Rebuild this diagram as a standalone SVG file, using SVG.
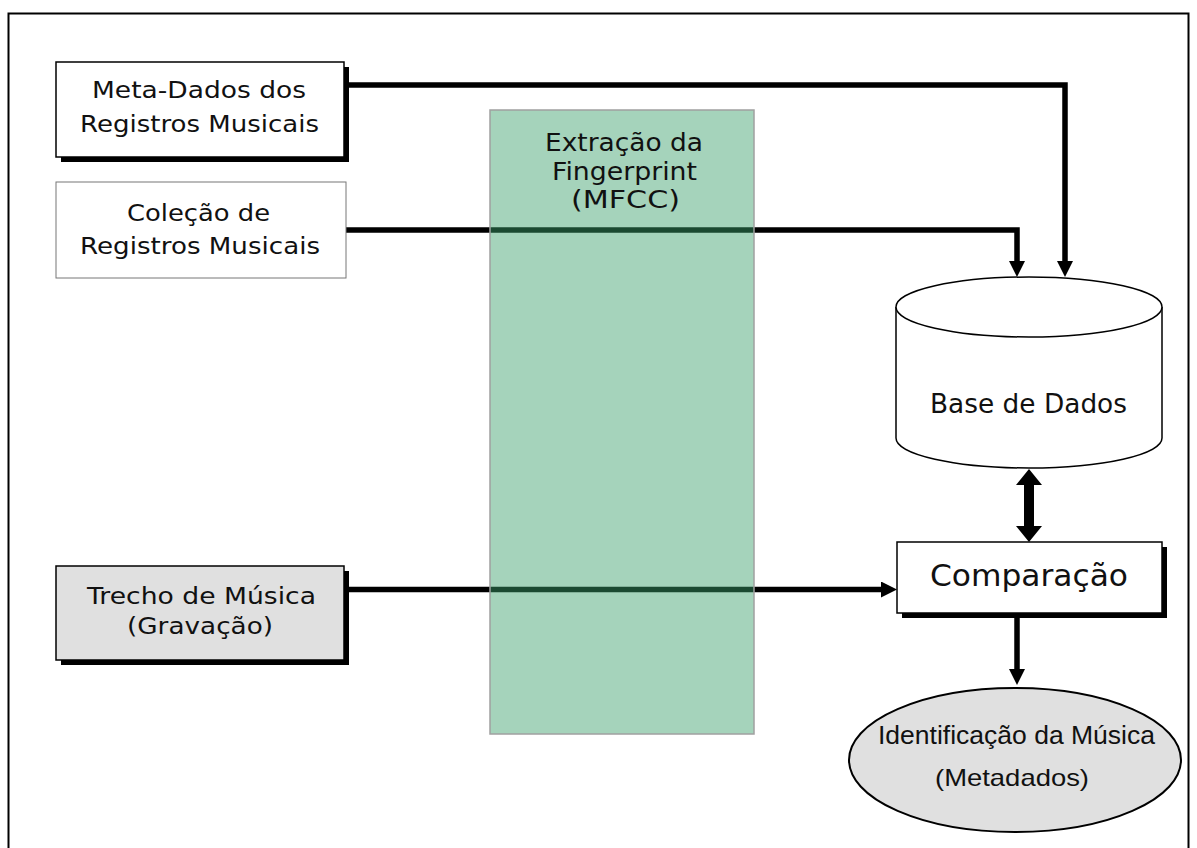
<svg xmlns="http://www.w3.org/2000/svg" width="1197" height="848" viewBox="0 0 1197 848">
<style>
.t{font-family:"DejaVu Sans",Verdana,sans-serif;fill:#111}
.a{font-family:"Liberation Sans",Arial,sans-serif;fill:#111}
.box{fill:#fff;stroke:#000;stroke-width:1.5}
.sh{fill:#000}
.ln{fill:none;stroke:#000;stroke-width:5.5;stroke-linejoin:miter}
</style>
<defs>
<marker id="ah" viewBox="0 0 16 16" refX="2" refY="8" markerWidth="16" markerHeight="16" markerUnits="userSpaceOnUse" orient="auto">
<path d="M0,0 L16,8 L0,16 z" fill="#000"/>
</marker>
</defs>
<rect x="0" y="0" width="1197" height="848" fill="#fff"/>
<rect x="8.5" y="13.5" width="1180" height="860" fill="none" stroke="#000" stroke-width="2"/>

<g id="connectors">
<path class="ln" d="M349,85 H1065 V263" marker-end="url(#ah)"/>
<path class="ln" d="M346,230 H1017 V263" marker-end="url(#ah)"/>
<path class="ln" d="M349,589.5 H883" marker-end="url(#ah)"/>
<path class="ln" d="M1017,618 V671" marker-end="url(#ah)"/>
<polygon points="1029,469 1042,485 1034,485 1034,526 1042,526 1029,542 1016,526 1024,526 1024,485 1016,485" fill="#000"/>
</g>

<g id="meta">
<rect class="sh" x="61" y="67" width="288" height="95"/>
<rect class="box" x="56" y="62" width="288" height="95"/>
<text class="t" font-size="23" x="92" y="98" textLength="214" lengthAdjust="spacingAndGlyphs">Meta-Dados dos</text>
<text class="t" font-size="23" x="80" y="132" textLength="239" lengthAdjust="spacingAndGlyphs">Registros Musicais</text>
</g>

<g id="colecao">
<rect x="56" y="182" width="290" height="96" fill="#fff" stroke="#777" stroke-width="1"/>
<text class="t" font-size="23" x="127" y="221" textLength="143" lengthAdjust="spacingAndGlyphs">Coleção de</text>
<text class="t" font-size="23" x="80" y="254" textLength="240" lengthAdjust="spacingAndGlyphs">Registros Musicais</text>
</g>

<g id="trecho">
<rect class="sh" x="61" y="571" width="288" height="94"/>
<rect x="56" y="566" width="288" height="94" fill="#e0e0e0" stroke="#000" stroke-width="1.5"/>
<text class="t" font-size="23" x="87" y="604" textLength="229" lengthAdjust="spacingAndGlyphs">Trecho de Música</text>
<text class="t" font-size="23" x="127" y="634" textLength="146" lengthAdjust="spacingAndGlyphs">(Gravação)</text>
</g>

<g id="extracao">
<rect x="490" y="110" width="264" height="624" fill="#3a9f6a" fill-opacity="0.46" stroke="#a0a0a0" stroke-width="1.5"/>
<text class="t" font-size="25" x="545" y="151" textLength="158" lengthAdjust="spacingAndGlyphs">Extração da</text>
<text class="t" font-size="25" x="552" y="180" textLength="145" lengthAdjust="spacingAndGlyphs">Fingerprint</text>
<text class="t" font-size="25" x="571" y="208" textLength="109" lengthAdjust="spacingAndGlyphs">(MFCC)</text>
</g>

<g id="base">
<path d="M896,307 V438 A133,30 0 0 0 1162,438 V307" fill="#fff" stroke="#000" stroke-width="1.5"/>
<ellipse cx="1029" cy="307" rx="133" ry="30" fill="#fff" stroke="#000" stroke-width="1.5"/>
<text class="t" font-size="26" x="930" y="413" textLength="197" lengthAdjust="spacingAndGlyphs">Base de Dados</text>
</g>

<g id="comparacao">
<rect class="sh" x="902" y="547" width="265" height="71"/>
<rect class="box" x="897" y="542" width="265" height="71"/>
<text class="t" font-size="30" x="930" y="586" textLength="198" lengthAdjust="spacingAndGlyphs">Comparação</text>
</g>

<g id="identificacao">
<ellipse cx="1015" cy="760" rx="166" ry="72" fill="#e0e0e0" stroke="#000" stroke-width="2"/>
<text class="a" font-size="25" x="878" y="744" textLength="277" lengthAdjust="spacingAndGlyphs">Identificação da Música</text>
<text class="a" font-size="24" x="935" y="786" textLength="154" lengthAdjust="spacingAndGlyphs">(Metadados)</text>
</g>
</svg>
